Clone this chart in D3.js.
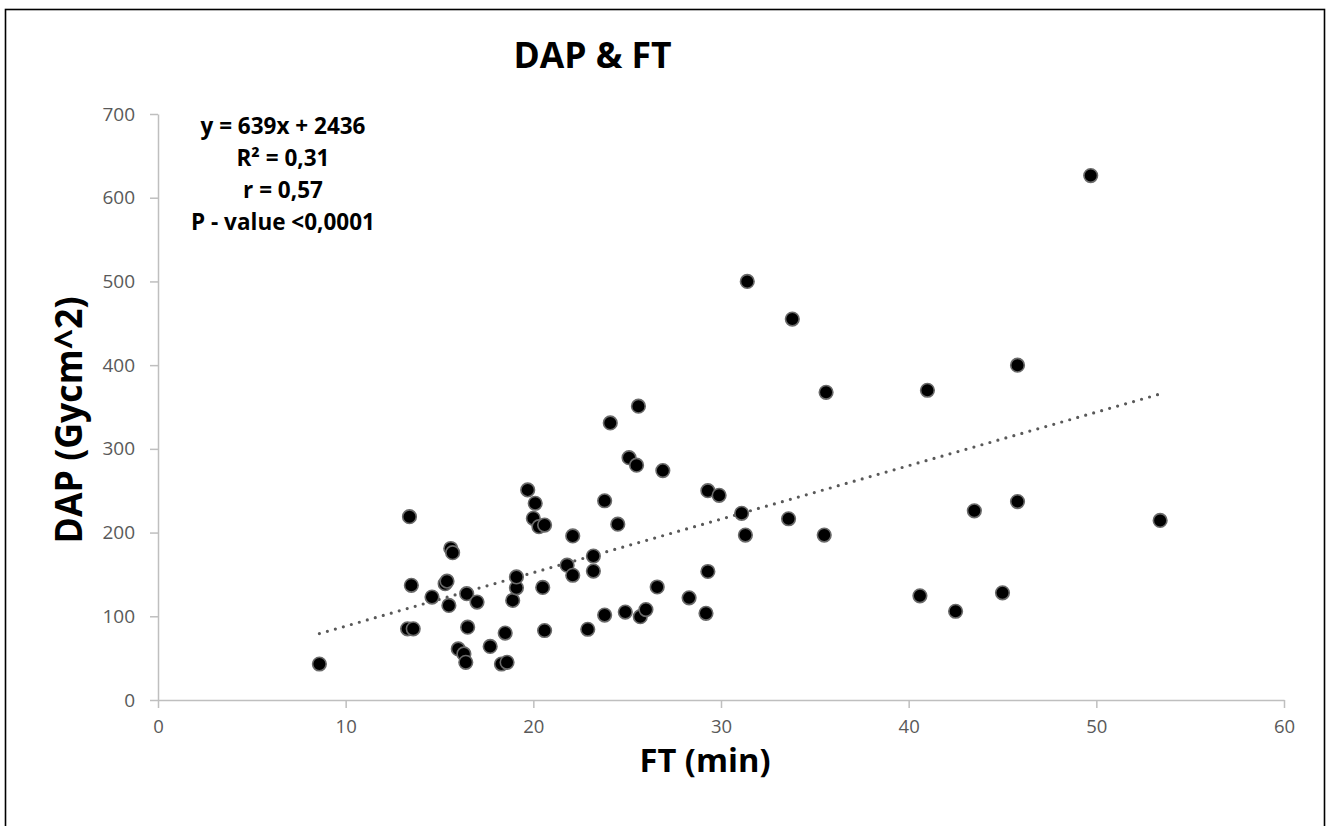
<!DOCTYPE html>
<html>
<head>
<meta charset="utf-8">
<script src="https://cdn.jsdelivr.net/npm/d3@7"></script>
<style>
  html, body { margin: 0; padding: 0; background: #ffffff; }
  svg { display: block; }
  text { font-family: "Open Sans", "Noto Sans", sans-serif; }
</style>
</head>
<body>
<svg id="chart" width="1328" height="826"></svg>
<script>
// Fluoroscopy time (min) and dose-area product (Gy·cm²) per procedure
const ftMin = [
  8.6, 13.4, 13.5, 13.3, 13.6, 14.6, 15.3, 15.4, 15.5, 15.6,
  15.7, 16.45, 17.0, 16.5, 16.0, 16.3, 16.4, 17.7, 18.5, 18.3,
  18.6, 18.9, 19.1, 19.1, 19.7, 20.1, 20.0, 20.3, 20.6, 20.5,
  20.6, 22.1, 21.8, 22.1, 23.8, 24.1, 24.5, 25.1, 25.5, 25.6,
  26.9, 23.2, 23.2, 23.8, 24.9, 25.7, 26.0, 22.9, 26.6, 28.3,
  29.2, 29.3, 29.3, 29.9, 31.1, 31.3, 31.4, 33.6, 33.8, 35.5,
  35.6, 40.6, 41.0, 42.5, 43.5, 45.0, 45.8, 45.8, 49.7, 53.4
];
const dapGycm2 = [
  43, 219, 137, 85, 85, 123, 139, 142, 113, 181,
  176, 127, 117, 87, 61, 55, 45, 64, 80, 43,
  45, 119, 134, 147, 251, 235, 217, 207, 209, 134.5,
  83, 196, 161, 149, 238, 331, 210, 289.5, 280.5, 351,
  274, 172, 154, 101.5, 105, 99.5, 108, 84.5, 135, 122,
  103.5, 153.5, 250, 244.5, 223, 197, 500, 216.5, 455, 197,
  367.5, 124.5, 370, 106, 226, 128, 400, 237, 626.5, 214.5
];

// Axis ticks
const xTicks = [0, 10, 20, 30, 40, 50, 60];
const yTicks = [0, 100, 200, 300, 400, 500, 600, 700];

// Linear fit as printed (coefficients expressed in cGy·cm²)
const fitSlope = 639;
const fitIntercept = 2436;
const fitUnitDivisor = 100;

const statLines = ["y = 639x + 2436", "R² = 0,31", "r = 0,57", "P - value <0,0001"];

const points = ftMin.map((x, i) => ({ x, y: dapGycm2[i] }));

const svg = d3.select("#chart");

// Outer frame
svg.append("rect")
  .attr("x", 5.5).attr("y", 9.5)
  .attr("width", 1319).attr("height", 840)
  .attr("fill", "none")
  .attr("stroke", "#000")
  .attr("stroke-width", 1.6);

const x = d3.scaleLinear().domain([0, 60]).range([158, 1284]);
const y = d3.scaleLinear().domain([0, 700]).range([700, 114]);

const axisColor = "#bfbfbf";
const labelColor = "#595959";

// X axis
const gx = svg.append("g")
  .attr("transform", `translate(0,${y(0)})`)
  .call(d3.axisBottom(x).tickValues(xTicks).tickSize(8).tickSizeOuter(0).tickPadding(12));
gx.select(".domain").attr("stroke", axisColor).attr("stroke-width", 1.5);
gx.selectAll(".tick line").attr("stroke", axisColor).attr("stroke-width", 1.5);
gx.selectAll(".tick text")
  .attr("fill", labelColor)
  .style("font-size", "18.5px")
  .style("font-family", "'Open Sans', sans-serif");

// Y axis
const gy = svg.append("g")
  .attr("transform", `translate(${x(0)},0)`)
  .call(d3.axisLeft(y).tickValues(yTicks).tickSize(8).tickSizeOuter(0).tickPadding(15));
gy.select(".domain").attr("stroke", axisColor).attr("stroke-width", 1.5);
gy.selectAll(".tick line").attr("stroke", axisColor).attr("stroke-width", 1.5);
gy.selectAll(".tick text")
  .attr("fill", labelColor)
  .style("font-size", "19px")
  .style("font-family", "'Open Sans', sans-serif");

// Trend line across the observed FT range
const [xMin, xMax] = d3.extent(ftMin);
const fit = v => (fitSlope * v + fitIntercept) / fitUnitDivisor;
svg.append("line")
  .attr("x1", x(xMin)).attr("y1", y(fit(xMin)))
  .attr("x2", x(xMax)).attr("y2", y(fit(xMax)))
  .attr("stroke", "#595959")
  .attr("stroke-width", 3.2)
  .attr("stroke-linecap", "round")
  .attr("stroke-dasharray", "0,8.3");

// Scatter markers
svg.append("g")
  .selectAll("circle")
  .data(points)
  .join("circle")
  .attr("cx", d => x(d.x))
  .attr("cy", d => y(d.y))
  .attr("r", 6.8)
  .attr("fill", "#000")
  .attr("stroke", "#6a6a6a")
  .attr("stroke-width", 1.6);

// Title
svg.append("text")
  .attr("x", 592.5).attr("y", 68)
  .attr("text-anchor", "middle")
  .style("font-size", "35.5px")
  .style("font-weight", "700")
  .attr("fill", "#000")
  .text("DAP & FT");

// Regression statistics
svg.append("g")
  .selectAll("text")
  .data(statLines)
  .join("text")
  .attr("x", 283)
  .attr("y", (d, i) => 134 + i * 32)
  .attr("text-anchor", "middle")
  .style("font-size", "22.5px")
  .style("font-weight", "700")
  .attr("fill", "#000")
  .text(d => d);

// Axis titles
svg.append("text")
  .attr("x", 705).attr("y", 772)
  .attr("text-anchor", "middle")
  .style("font-size", "32px")
  .style("font-weight", "700")
  .attr("fill", "#000")
  .attr("textLength", 131)
  .attr("lengthAdjust", "spacingAndGlyphs")
  .text("FT (min)");

svg.append("text")
  .attr("transform", "translate(82,420) rotate(-90)")
  .attr("text-anchor", "middle")
  .style("font-size", "37px")
  .style("font-weight", "700")
  .attr("fill", "#000")
  .attr("textLength", 247)
  .attr("lengthAdjust", "spacingAndGlyphs")
  .text("DAP (Gycm^2)");
</script>
</body>
</html>
